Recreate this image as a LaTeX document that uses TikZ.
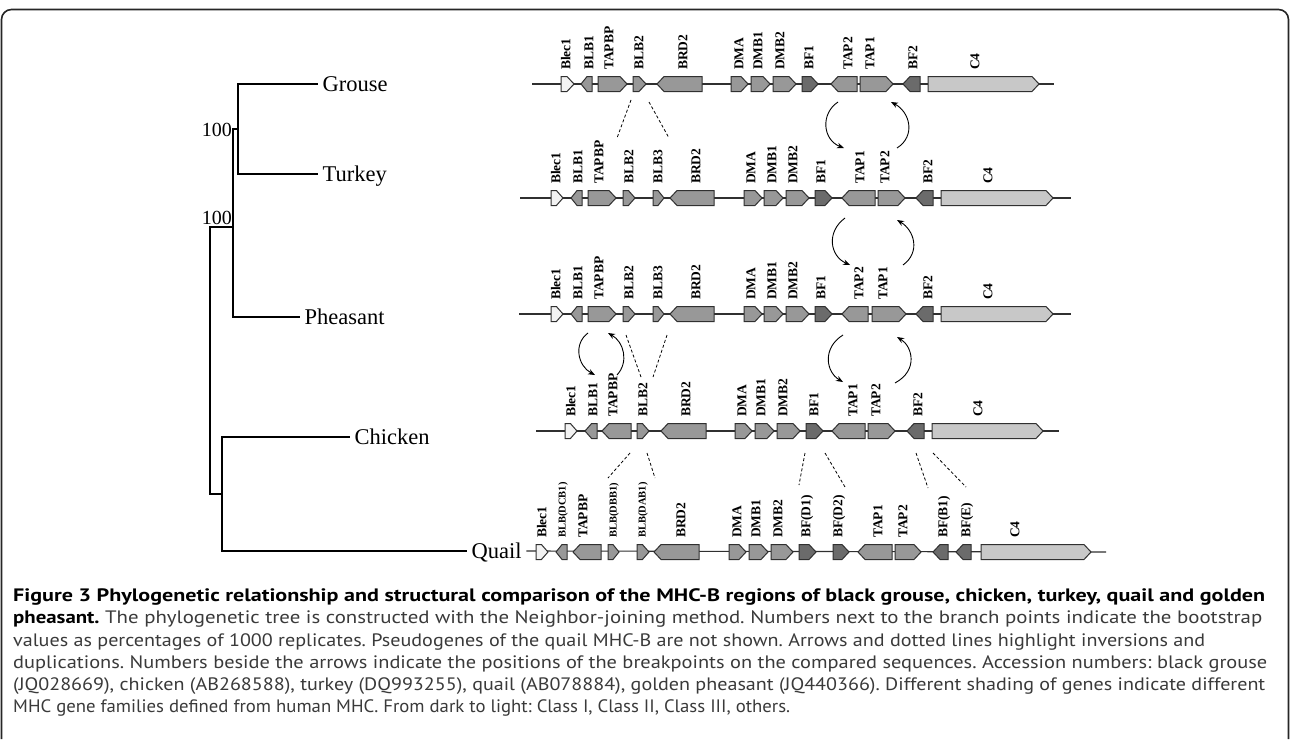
\documentclass[tikz,border=0pt]{standalone}
\usepackage{fontspec}
\setmainfont{Liberation Serif}
\newfontfamily\capfont{PT Sans}
\usetikzlibrary{arrows.meta}
\definecolor{cI}{HTML}{6B6B6B}
\definecolor{cII}{HTML}{989898}
\definecolor{cIII}{HTML}{C8C8C8}
\definecolor{cO}{HTML}{F2F2F2}
\definecolor{capgray}{HTML}{3A3A3A}
\definecolor{outl}{HTML}{303030}
\tikzset{
  gene/.style={draw=outl,line width=1pt,line join=miter},
  track/.style={draw=outl,line width=1.1pt},
  glab/.style={rotate=90,anchor=west,inner sep=0pt,text height=8.8pt,text depth=0pt,
               font=\bfseries\fontsize{13.5}{14}\selectfont},
  glabs/.style={glab,text height=7pt,font=\bfseries\fontsize{10.5}{11}\selectfont},
  tree/.style={draw=black,line width=1.1pt},
  sp/.style={anchor=west,inner sep=4.5pt,text height=14pt,text depth=0pt,font=\fontsize{22.5}{24}\selectfont},
  boot/.style={inner sep=0pt,font=\fontsize{20}{22}\selectfont},
  dsh/.style={draw=black,line width=0.8pt,dash pattern=on 3pt off 2.2pt},
  arr/.style={draw=black,line width=0.9pt,-{Stealth[length=7pt,width=5.5pt]}},
  capl/.style={anchor=base west,inner sep=0pt,font=\capfont\fontsize{18}{20}\selectfont\frenchspacing},
  frame/.style={draw=black!85,line width=1.6pt,rounded corners=10pt}
}
% gene: x1, x2, direction (R/L), fill, label x, label
\newcommand\G[6]{%
  \pgfmathsetmacro\gtip{min(7,0.55*(#2-#1))}%
  \if R#3
    \filldraw[gene,fill=#4] (#1,\ty-7.5) -- ({#2-\gtip},\ty-7.5) -- (#2,\ty) -- ({#2-\gtip},\ty+7.5) -- (#1,\ty+7.5) -- cycle;
  \else
    \filldraw[gene,fill=#4] (#2,\ty-7.5) -- ({#1+\gtip},\ty-7.5) -- (#1,\ty) -- ({#1+\gtip},\ty+7.5) -- (#2,\ty+7.5) -- cycle;
  \fi
  \node[glab] at (#5,\ty-14) {#6};}
\newcommand\Gs[6]{%
  \pgfmathsetmacro\gtip{min(7,0.55*(#2-#1))}%
  \if R#3
    \filldraw[gene,fill=#4] (#1,\ty-7.5) -- ({#2-\gtip},\ty-7.5) -- (#2,\ty) -- ({#2-\gtip},\ty+7.5) -- (#1,\ty+7.5) -- cycle;
  \else
    \filldraw[gene,fill=#4] (#2,\ty-7.5) -- ({#1+\gtip},\ty-7.5) -- (#1,\ty) -- ({#1+\gtip},\ty+7.5) -- (#2,\ty+7.5) -- cycle;
  \fi
  \node[glabs] at (#5,\ty-14) {#6};}
\newcommand\capfit[2]{\resizebox{#1}{\height}{#2}}
\begin{document}
\begin{tikzpicture}[x=1pt,y=-1pt]
\useasboundingbox (0,0) rectangle (1290,739);
\fill[white] (0,0) rectangle (1290,739);
\draw[frame] (1.5,739) -- (1.5,9.5) -- (1288.5,9.5) -- (1288.5,739);

% ---------------- tree ----------------
\node[sp] (grouse) at (318,84) {Grouse};
\node[sp] (turkey) at (318,174) {Turkey};
\node[sp] (pheasant) at (300,317) {Pheasant};
\node[sp] (chicken) at (350,437) {Chicken};
\node[sp] (quail) at (467,551) {Quail};
\coordinate (gt) at (238,129);
\coordinate (gtj) at (233,129);
\coordinate (gtp) at (233,227);
\coordinate (rt) at (210,227);
\coordinate (rb) at (210,494);
\coordinate (cq) at (222,494);
\draw[tree] (gt) |- (grouse.west);
\draw[tree] (gt) |- (turkey.west);
\draw[tree] (gt) -- (gtj) |- (pheasant.west);
\draw[tree] (gtp) -- (rt) -- (rb) -- (cq);
\draw[tree] (cq) |- (chicken.west);
\draw[tree] (cq) |- (quail.west);
\node[boot,anchor=east] (b1) at (232,130) {100};
\node[boot,anchor=south east] (b2) at (232,225) {100};

% ---------------- Grouse track ----------------
\def\ty{84}
\draw[track] (532,\ty) -- (1054,\ty);
\G{561}{574}{R}{cO}{566}{Blec1}
\G{581}{592}{L}{cII}{589}{BLB1}
\G{598}{627}{R}{cII}{609}{TAPBP}
\G{633}{646}{R}{cII}{639}{BLB2}
\G{657}{702}{L}{cII}{683}{BRD2}
\G{731}{748}{R}{cII}{739}{DMA}
\G{751}{770}{R}{cII}{758}{DMB1}
\G{773}{796}{R}{cII}{780}{DMB2}
\G{802}{818}{R}{cI}{809}{BF1}
\G{831}{857}{L}{cII}{848}{TAP2}
\G{860}{893}{R}{cII}{870}{TAP1}
\G{903}{920}{L}{cI}{913}{BF2}
\G{928}{1039}{R}{cIII}{975}{C4}

% ---------------- Turkey track ----------------
\def\ty{198}
\draw[track] (520,\ty) -- (1071,\ty);
\G{551}{563}{R}{cO}{556}{Blec1}
\G{571}{582}{L}{cII}{578}{BLB1}
\G{588}{616}{R}{cII}{599}{TAPBP}
\G{623}{635}{R}{cII}{629}{BLB2}
\G{653}{664}{R}{cII}{658}{BLB3}
\G{670}{714}{L}{cII}{696}{BRD2}
\G{744}{762}{R}{cII}{751}{DMA}
\G{764}{783}{R}{cII}{772}{DMB1}
\G{786}{809}{R}{cII}{793}{DMB2}
\G{815}{832}{R}{cI}{821}{BF1}
\G{842}{875}{L}{cII}{860}{TAP1}
\G{878}{905}{R}{cII}{885}{TAP2}
\G{916}{933}{L}{cI}{928}{BF2}
\G{941}{1053}{R}{cIII}{988}{C4}

% ---------------- Pheasant track ----------------
\def\ty{314}
\draw[track] (519,\ty) -- (1071,\ty);
\G{551}{563}{R}{cO}{556}{Blec1}
\G{571}{582}{L}{cII}{578}{BLB1}
\G{588}{616}{R}{cII}{599}{TAPBP}
\G{623}{635}{R}{cII}{629}{BLB2}
\G{653}{664}{R}{cII}{658}{BLB3}
\G{670}{714}{L}{cII}{696}{BRD2}
\G{744}{762}{R}{cII}{751}{DMA}
\G{764}{783}{R}{cII}{772}{DMB1}
\G{786}{809}{R}{cII}{793}{DMB2}
\G{815}{832}{R}{cI}{821}{BF1}
\G{842}{868}{L}{cII}{859}{TAP2}
\G{872}{906}{R}{cII}{883}{TAP1}
\G{916}{933}{L}{cI}{928}{BF2}
\G{941}{1053}{R}{cIII}{988}{C4}

% ---------------- Chicken track ----------------
\def\ty{431}
\draw[track] (536,\ty) -- (1059,\ty);
\G{565}{577}{R}{cO}{571}{Blec1}
\G{585}{597}{L}{cII}{593}{BLB1}
\G{602}{631}{L}{cII}{613}{TAPBP}
\G{637}{649}{R}{cII}{643}{BLB2}
\G{661}{706}{L}{cII}{686}{BRD2}
\G{735}{752}{R}{cII}{742}{DMA}
\G{755}{774}{R}{cII}{761}{DMB1}
\G{777}{800}{R}{cII}{783}{DMB2}
\G{806}{823}{R}{cI}{814}{BF1}
\G{832}{865}{L}{cII}{853}{TAP1}
\G{868}{895}{R}{cII}{876}{TAP2}
\G{907}{924}{L}{cI}{918}{BF2}
\G{932}{1043}{R}{cIII}{978}{C4}

% ---------------- Quail track ----------------
\def\ty{552}
\draw[track] (quail.east) -- (1106,\ty);
\G{536}{548}{R}{cO}{542}{Blec1}
\Gs{556}{567}{L}{cII}{562}{BLB(DCB1)}
\G{573}{601}{L}{cII}{583}{TAPBP}
\Gs{608}{619}{R}{cII}{613}{BLB(DBB1)}
\Gs{637}{649}{R}{cII}{642}{BLB(DAB1)}
\G{654}{699}{L}{cII}{681}{BRD2}
\G{729}{746}{R}{cII}{737}{DMA}
\G{749}{768}{R}{cII}{756}{DMB1}
\G{771}{793}{R}{cII}{778}{DMB2}
\G{799}{816}{R}{cI}{806}{BF(D1)}
\G{833}{849}{R}{cI}{838}{BF(D2)}
\G{858}{892}{L}{cII}{878}{TAP1}
\G{895}{921}{R}{cII}{903}{TAP2}
\G{933}{948}{L}{cI}{943}{BF(B1)}
\G{956}{971}{L}{cI}{966}{BF(E)}
\G{981}{1091}{R}{cIII}{1015}{C4}

% ---------------- dashed lines ----------------
\draw[dsh] (631,100) -- (617,138);
\draw[dsh] (649,102) -- (669,138);
\draw[dsh] (626,335) -- (641,377);
\draw[dsh] (667,335) -- (653,377);
\draw[dsh] (630,453) -- (608,478);
\draw[dsh] (647,453) -- (655,478);
\draw[dsh] (805,453) -- (799,485);
\draw[dsh] (825,453) -- (845,487);
\draw[dsh] (916,453) -- (928,488);
\draw[dsh] (933,453) -- (966,487);

% ---------------- arrows ----------------
\draw[arr] (838,102) .. controls (820,114) and (823,140) .. (844,148);
\draw[arr] (897,148) .. controls (916,136) and (910,112) .. (891,102);
\draw[arr] (845,218) .. controls (826,232) and (830,256) .. (850,265);
\draw[arr] (903,265) .. controls (921,252) and (914,230) .. (897,220);
\draw[arr] (588,333) .. controls (573,344) and (578,366) .. (595,375);
\draw[arr] (617,375) .. controls (629,362) and (624,342) .. (608,333);
\draw[arr] (843,335) .. controls (822,348) and (826,372) .. (843,382);
\draw[arr] (895,383) .. controls (919,370) and (912,346) .. (897,337);

% ---------------- caption ----------------
\node[capl] (c1) at (13,601) {\capfit{1252pt}{\bfseries Figure 3 Phylogenetic relationship and structural comparison of the MHC-B regions of black grouse, chicken, turkey, quail and golden}};
\node[capl,text=capgray] (c2) at (13,623) {\capfit{1249pt}{\textcolor{black}{\bfseries pheasant.} The phylogenetic tree is constructed with the Neighbor-joining method. Numbers next to the branch points indicate the bootstrap}};
\node[capl,text=capgray] (c3) at (13,646) {\capfit{1192pt}{values as percentages of 1000 replicates. Pseudogenes of the quail MHC-B are not shown. Arrows and dotted lines highlight inversions and}};
\node[capl,text=capgray] (c4) at (13,668) {\capfit{1254pt}{duplications. Numbers beside the arrows indicate the positions of the breakpoints on the compared sequences. Accession numbers: black grouse}};
\node[capl,text=capgray] (c5) at (13,690) {\capfit{1252pt}{(JQ028669), chicken (AB268588), turkey (DQ993255), quail (AB078884), golden pheasant (JQ440366). Different shading of genes indicate different}};
\node[capl,text=capgray] (c6) at (13,712) {\capfit{777pt}{MHC gene families defined from human MHC. From dark to light: Class I, Class II, Class III, others.}};
\end{tikzpicture}
\end{document}
